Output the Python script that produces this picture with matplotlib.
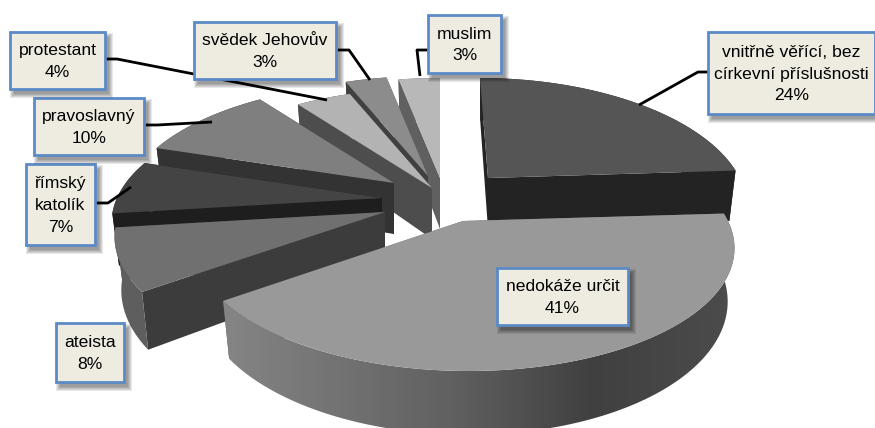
import numpy as np
import matplotlib
matplotlib.use("Agg")
import matplotlib.pyplot as plt
from matplotlib.colors import LinearSegmentedColormap
from matplotlib.patches import Polygon, Rectangle

plt.rcParams["font.family"] = ["Liberation Sans", "DejaVu Sans"]

categories = ["vnitřně věřící, bez\ncírkevní příslušnosti", "nedokáže určit", "ateista",
              "římský\nkatolík", "pravoslavný", "protestant", "svědek Jehovův", "muslim"]
values = [24, 41, 8, 7, 10, 4, 3, 3]

# styling per slice, same order as values
apex = [(488, 178), (463, 221), (385, 212), (382, 198), (394, 183), (432, 188), (428, 176), (440, 178)]
radius_scale = [0.95, 1, 1, 1, 1, 1, 1, 1]
top_colors = ["#555555", "#999999", "#707070", "#444444", "#7f7f7f", "#b3b3b3", "#8c8c8c", "#b8b8b8"]
wall_colors = ["#232323", "#5c5c5c", "#3c3c3c", "#1e1e1e", "#333333", "#4d4d4d", "#404040", "#606060"]
rim_colors = ["#232323", None, "#5e5e5e", "#1e1e1e", "#333333", "#4d4d4d", "#404040", "#606060"]
draw_order = [7, 6, 5, 4, 3, 2, 0, 1]

boxes = [(708, 32, 875, 114), (497, 268, 628, 325), (56, 323, 124, 382), (26, 164, 95, 245),
         (34, 98, 144, 155), (10, 32, 105, 89), (194, 22, 336, 79), (428, 15, 501, 73)]
leaders = [[(708, 72), (698, 72), (639, 105)], None, None,
           [(95, 203), (108, 203), (131, 187)],
           [(144, 125), (157, 125), (212, 122)],
           [(105, 59), (117, 59), (327, 100)],
           [(336, 50), (349, 50), (370, 80)],
           [(428, 50), (417, 50), (420, 76)]]

RX, RY = 265, 120
PERSP = 0.2
VANISH_X = 440
DEPTH = 51
SHRINK = 0.975


def project(a, deg, scale=1):
    t = np.radians(deg)
    u, v = np.sin(t), -np.cos(t)
    s = 1 / (1 - PERSP * v)
    x = a[0] + RX * scale * u * s + max(a[0] - VANISH_X, 0) * (s - 1)
    y = a[1] + RY * v * s
    return x, y, s


def lower(a, x, y, s):
    return a[0] + (x - a[0]) * SHRINK, y + DEPTH * s


fig = plt.figure(figsize=(8.75, 4.28), dpi=100)
ax = fig.add_axes([0, 0, 1, 1])

starts = np.cumsum([0] + values[:-1]) * 3.6
ends = np.cumsum(values) * 3.6
z = 1

for i in draw_order:
    a = apex[i]
    deg = np.linspace(starts[i], ends[i], 120)
    x, y, s = project(a, deg, radius_scale[i])
    xb, yb = lower(a, x, y, s)
    ab = (a[0], a[1] + DEPTH)

    # the two cut faces
    for k in (-1, 0):
        pts = [a, (x[k], y[k]), (xb[k], yb[k]), ab]
        ax.add_patch(Polygon(pts, closed=True, fc=wall_colors[i], ec="none", zorder=z))
        z += 1

    # outer rim
    rim = np.column_stack([np.r_[x, xb[::-1]], np.r_[y, yb[::-1]]])
    if rim_colors[i] is None:
        patch = Polygon(rim, closed=True, fc="none", ec="none", zorder=z)
        ax.add_patch(patch)
        cmap = LinearSegmentedColormap.from_list(
            "rim", [(0, "#858585"), (0.45, "#606060"), (0.72, "#404040"), (1, "#4c4c4c")])
        im = ax.imshow(np.linspace(0, 1, 256)[None, :], cmap=cmap, aspect="auto", zorder=z,
                       extent=(x.min(), x.max(), 440, 200))
        im.set_clip_path(patch)
    else:
        ax.add_patch(Polygon(rim, closed=True, fc=rim_colors[i], ec="none", zorder=z))
    z += 1

    # top face
    top = [a] + list(zip(x, y))
    ax.add_patch(Polygon(top, closed=True, fc=top_colors[i], ec="none", zorder=z))
    z += 1

z = 200
for line in leaders:
    if line is not None:
        ax.plot(*zip(*line), color="black", lw=2.0, zorder=z, solid_capstyle="butt")

z = 210
for name, val, (x0, y0, x1, y1) in zip(categories, values, boxes):
    # soft shadow
    for grow in (4, 3, 2, 1, 0):
        ax.add_patch(Rectangle((x0 + 4 - grow, y0 + 5 - grow), x1 - x0 + 2 * grow, y1 - y0 + 2 * grow,
                               fc="black", ec="none", alpha=0.09, zorder=z))
    ax.add_patch(Rectangle((x0, y0), x1 - x0, y1 - y0, fc="#eeece1", ec="#5b8bc6", lw=2.0, zorder=z + 1))
    ax.text((x0 + x1) / 2, (y0 + y1) / 2 + 1, f"{name}\n{val}%", ha="center", va="center",
            fontsize=12.6, linespacing=1.55, color="black", zorder=z + 2)
    z += 3

ax.set_xlim(0, 875)
ax.set_ylim(428, 0)
ax.axis("off")
fig.savefig("out.png", dpi=100, facecolor="white")
